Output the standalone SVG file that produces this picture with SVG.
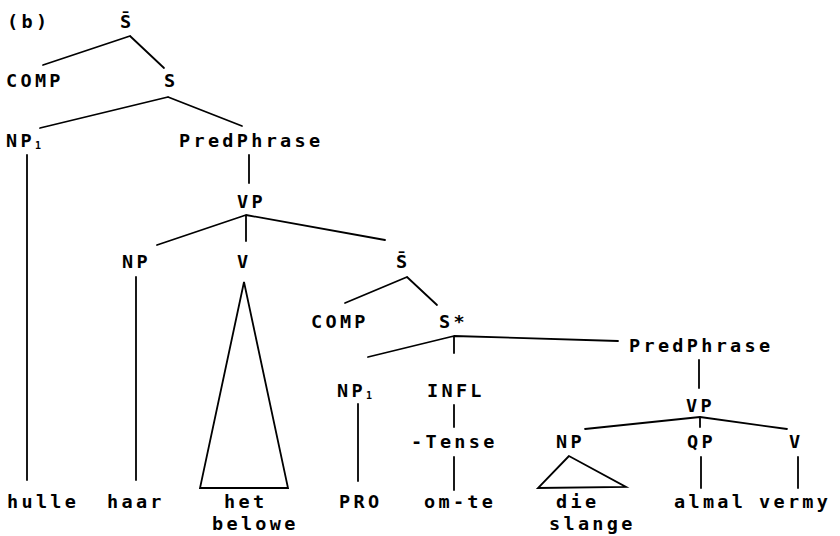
<svg xmlns="http://www.w3.org/2000/svg" width="840" height="536" viewBox="0 0 840 536">
  <style>
    text { font-family: "DejaVu Sans Mono", "Liberation Mono", monospace; font-size: 18.5px; font-weight: bold; letter-spacing: 3.3px; fill: #000; }
    .sub { font-size: 10px; letter-spacing: 0; }
    .edge { stroke: #000; stroke-width: 1.8; fill: none; stroke-linecap: round; }
  </style>
  <rect width="840" height="536" fill="#fff"/>

  <g id="connectors">
    <path class="edge" d="M130 36 L43 65 M130 36 L164 68"/>
    <path class="edge" d="M168 97 L40 128 M168 97 L242 126"/>
    <path class="edge" d="M249 155 L249 183"/>
    <path class="edge" d="M246 215 L157 245 M246 215 L246 241 M246 215 L385 240"/>
    <path class="edge" d="M27 155 L27 480"/>
    <path class="edge" d="M136 277 L136 480"/>
    <path class="edge" d="M244 282 L200 488 L288 488 Z"/>
    <path class="edge" d="M407 277 L345 303 M407 277 L437 305"/>
    <path class="edge" d="M454 336 L368 357 M454 336 L454 353 M454 336 L618 341"/>
    <path class="edge" d="M699 360 L699 388"/>
    <path class="edge" d="M700 417 L585 429 M700 417 L700 427 M700 417 L787 429"/>
    <path class="edge" d="M358 404 L358 481"/>
    <path class="edge" d="M454 405 L454 427"/>
    <path class="edge" d="M454 457 L454 490"/>
    <path class="edge" d="M569 456 L538 488 L626 487 Z"/>
    <path class="edge" d="M701 457 L701 488"/>
    <path class="edge" d="M798 457 L798 488"/>
  </g>

  <g id="label-b"><text x="7" y="28">(b)</text></g>
  <g id="sbar-top"><text x="120" y="28">S̄</text></g>
  <g id="comp-top"><text x="6" y="87">COMP</text></g>
  <g id="s-top"><text x="164" y="87">S</text></g>
  <g id="np1-top"><text x="6" y="147">NP<tspan class="sub" dy="2">1</tspan></text></g>
  <g id="predphrase-top"><text x="179" y="147">PredPhrase</text></g>
  <g id="vp-top"><text x="237" y="208">VP</text></g>
  <g id="np-mid"><text x="122" y="268">NP</text></g>
  <g id="v-mid"><text x="237" y="268">V</text></g>
  <g id="sbar-mid"><text x="396" y="268">S̄</text></g>
  <g id="comp-mid"><text x="311" y="328">COMP</text></g>
  <g id="sstar"><text x="439" y="328">S*</text></g>
  <g id="predphrase-low"><text x="629" y="352">PredPhrase</text></g>
  <g id="np1-low"><text x="337" y="397">NP<tspan class="sub" dy="2">1</tspan></text></g>
  <g id="infl"><text x="427" y="397">INFL</text></g>
  <g id="vp-low"><text x="686" y="412">VP</text></g>
  <g id="tense"><text x="411" y="448">-Tense</text></g>
  <g id="np-low"><text x="556" y="448">NP</text></g>
  <g id="qp"><text x="687" y="448">QP</text></g>
  <g id="v-low"><text x="789" y="448">V</text></g>
  <g id="hulle"><text x="7" y="508">hulle</text></g>
  <g id="haar"><text x="107" y="508">haar</text></g>
  <g id="het-belowe"><text x="224" y="508">het</text><text x="212" y="530">belowe</text></g>
  <g id="pro"><text x="339" y="508">PRO</text></g>
  <g id="om-te"><text x="424" y="508">om-te</text></g>
  <g id="die-slange"><text x="556" y="508">die</text><text x="549" y="530">slange</text></g>
  <g id="almal"><text x="674" y="508">almal</text></g>
  <g id="vermy"><text x="759" y="508">vermy</text></g>
</svg>
